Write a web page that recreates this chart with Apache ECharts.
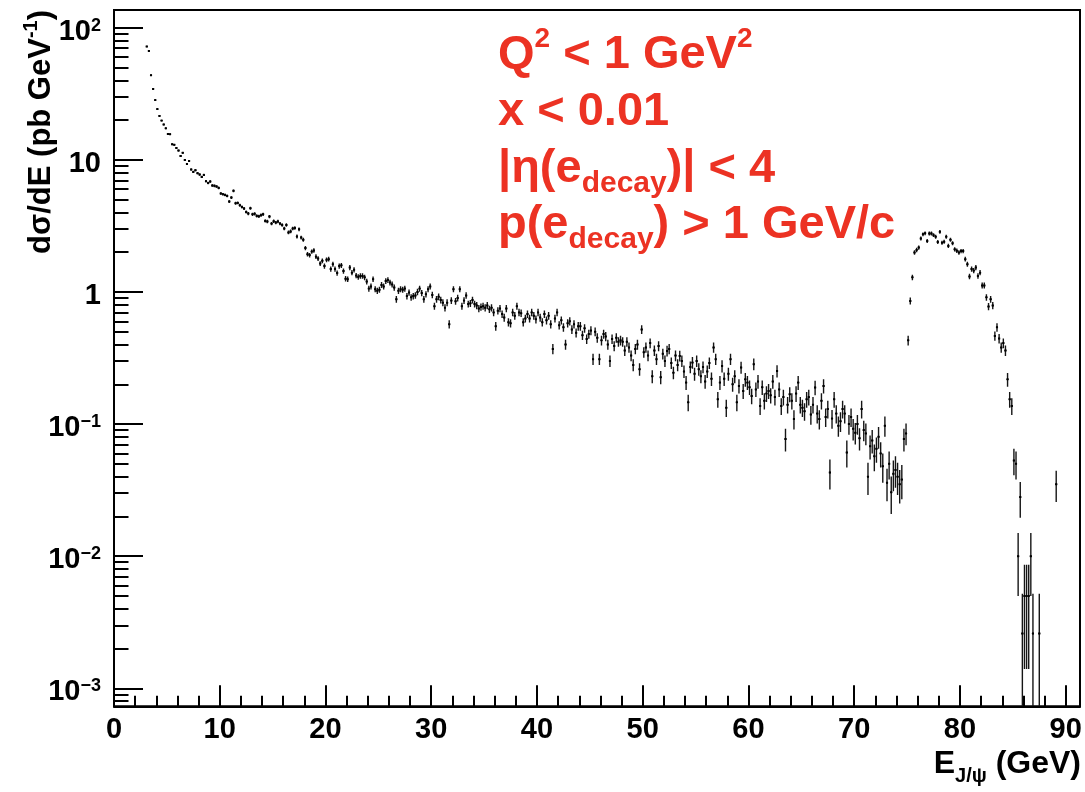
<!DOCTYPE html>
<html><head><meta charset="utf-8">
<script src="https://cdn.jsdelivr.net/npm/echarts@6/dist/echarts.min.js"></script>
<style>html,body{margin:0;padding:0;background:#fff}#c{width:1085px;height:792px}</style>
</head><body><div id="c"></div>
<script>
// ---------------- data ----------------
const binWidth = 0.2;           // GeV, histogram bin width
// bin contents (pb/GeV) and their errors, per range of E (bin centres start at `start`)
const seg1Start = 3.1;
const seg1 = [72.1,66.7,43.7,34.4,28.3,24.2,21.5,19.8,18.5,17.3,15.7,15.6,13.1,13.0,12.3,11.75,10.7,11.3,9.98,9.31,9.81,8.45,8.10,8.34,7.92,7.74,7.42,7.69,6.89,6.68,6.85,6.39,6.35,6.28,6.13,5.56,5.49,5.42,5.33,4.83,5.18,5.82,4.69,4.72,4.53];
const err1 = [0.47,0.45,0.36,0.32,0.29,0.27,0.25,0.24,0.24,0.23,0.22,0.22,0.20,0.20,0.19,0.19,0.18,0.18,0.17,0.17,0.17,0.16,0.16,0.16,0.15,0.15,0.15,0.15,0.14,0.14,0.14,0.14,0.14,0.14,0.14,0.13,0.13,0.13,0.13,0.12,0.12,0.13,0.12,0.12,0.12];
const seg2Start = 12.1;
const seg2 = [4.40,4.28,4.03,3.92,4.30,3.87,3.90,3.76,3.74,3.81,3.87,3.45,3.41,3.72,3.29,3.43,3.35,3.41,3.29,3.21,3.02,3.21,2.82,2.87,3.02,3.05,2.63,2.98,2.58,2.48,2.15,1.93,1.90,2.02,2.06,1.85,1.79,1.64,1.72,1.57];
const err2 = [0.115,0.113,0.11,0.108,0.114,0.108,0.108,0.106,0.106,0.107,0.108,0.102,0.101,0.106,0.099,0.101,0.1,0.101,0.099,0.098,0.095,0.098,0.092,0.093,0.095,0.096,0.089,0.095,0.088,0.086,0.08,0.076,0.075,0.078,0.079,0.075,0.073,0.07,0.072,0.069];
const seg3Start = 20.1;
const seg3 = [1.75,1.77,1.49,1.62,1.49,1.39,1.57,1.59,1.44,1.26,1.25,1.53,1.40,1.47,1.33,1.30,1.32,1.32,1.29,1.20,1.06,1.10,1.25,1.05,1.02,1.04,1.13,1.10,1.21,1.23,1.18,1.14,1.08,0.88,1.02,1.05,1.04,1.06,0.93,0.99,0.91,0.93,0.94,1.00,1.06,0.98,0.88,0.96,1.05,1.10];
const err3 = [0.072,0.073,0.067,0.07,0.067,0.065,0.069,0.069,0.066,0.061,0.061,0.068,0.065,0.066,0.063,0.062,0.063,0.063,0.062,0.06,0.056,0.057,0.061,0.056,0.055,0.056,0.058,0.057,0.06,0.061,0.059,0.058,0.057,0.051,0.055,0.056,0.056,0.056,0.053,0.054,0.052,0.053,0.053,0.055,0.056,0.054,0.051,0.054,0.056,0.057];
const seg4Start = 30.1;
const seg4 = [0.95,0.78,0.88,0.92,0.87,0.83,0.76,0.83,0.57,0.86,1.05,0.85,0.90,1.05,0.78,0.86,0.94,0.81,0.82,0.87,0.81,0.79,0.75,0.77,0.78,0.76,0.79,0.74,0.76,0.70,0.55,0.72,0.75,0.68,0.64,0.75,0.59,0.58,0.70,0.66,0.78,0.70,0.69,0.59,0.63,0.68,0.63,0.70,0.66,0.62];
const err4 = [0.053,0.048,0.051,0.053,0.051,0.05,0.048,0.05,0.041,0.051,0.056,0.05,0.052,0.056,0.048,0.051,0.053,0.049,0.05,0.051,0.049,0.049,0.047,0.048,0.048,0.048,0.049,0.047,0.048,0.046,0.041,0.046,0.047,0.045,0.044,0.047,0.042,0.042,0.046,0.044,0.048,0.046,0.045,0.042,0.043,0.045,0.043,0.046,0.044,0.043];
const seg5Start = 40.1;
const seg5 = [0.70,0.64,0.59,0.68,0.61,0.66,0.57,0.37,0.63,0.70,0.56,0.61,0.54,0.40,0.58,0.60,0.52,0.57,0.49,0.55,0.55,0.47,0.53,0.44,0.48,0.51,0.31,0.50,0.45,0.31,0.43,0.48,0.46,0.40,0.30,0.44,0.39,0.45,0.42,0.43,0.42,0.36,0.42,0.38,0.33,0.28,0.37,0.40,0.26,0.52];
const err5 = [0.046,0.044,0.042,0.045,0.043,0.044,0.041,0.033,0.043,0.046,0.041,0.043,0.04,0.035,0.042,0.042,0.04,0.041,0.038,0.041,0.041,0.038,0.04,0.036,0.038,0.039,0.03,0.039,0.037,0.03,0.036,0.038,0.037,0.035,0.03,0.036,0.034,0.037,0.035,0.036,0.035,0.033,0.035,0.034,0.031,0.029,0.033,0.035,0.028,0.039];
const seg6Start = 50.1;
const seg6 = [0.35,0.38,0.33,0.41,0.23,0.36,0.31,0.39,0.226,0.34,0.30,0.358,0.37,0.29,0.245,0.33,0.28,0.328,0.30,0.25,0.206,0.146,0.27,0.292,0.24,0.30,0.26,0.23,0.27,0.21,0.25,0.29,0.22,0.38,0.31,0.154,0.206,0.275,0.22,0.133,0.24,0.31,0.20,0.23,0.146,0.194,0.268,0.178,0.218,0.206];
const err6 = [0.032,0.034,0.031,0.035,0.026,0.033,0.03,0.034,0.026,0.032,0.03,0.033,0.033,0.029,0.027,0.031,0.029,0.031,0.03,0.027,0.025,0.021,0.028,0.03,0.027,0.03,0.028,0.026,0.028,0.025,0.027,0.029,0.026,0.034,0.03,0.021,0.025,0.029,0.026,0.02,0.027,0.03,0.024,0.026,0.021,0.024,0.028,0.023,0.026,0.025];
const seg7Start = 60.1;
const seg7 = [0.19,0.163,0.284,0.183,0.21,0.137,0.19,0.15,0.17,0.178,0.165,0.21,0.16,0.252,0.183,0.137,0.16,0.077,0.14,0.168,0.15,0.109,0.17,0.206,0.14,0.133,0.125,0.154,0.16,0.118,0.14,0.189,0.12,0.109,0.15,0.194,0.113,0.13,0.043,0.11,0.154,0.12,0.097,0.105,0.13,0.12,0.061,0.10,0.113,0.092,0.086,0.10,0.078,0.13,0.09,0.085,0.040,0.068,0.075,0.057,0.065,0.08,0.06,0.048,0.097,0.036,0.05,0.0305,0.042,0.045,0.040,0.035,0.038,0.077,0.085];
const err7 = [0.024,0.022,0.029,0.023,0.025,0.02,0.024,0.021,0.023,0.023,0.022,0.025,0.022,0.027,0.023,0.02,0.022,0.015,0.02,0.022,0.021,0.018,0.023,0.025,0.02,0.02,0.019,0.021,0.022,0.019,0.02,0.024,0.019,0.018,0.021,0.024,0.018,0.02,0.011,0.018,0.021,0.019,0.017,0.018,0.02,0.019,0.014,0.017,0.018,0.017,0.016,0.017,0.015,0.02,0.016,0.016,0.011,0.014,0.015,0.013,0.014,0.015,0.013,0.012,0.017,0.01,0.012,0.0096,0.011,0.012,0.011,0.01,0.011,0.015,0.016];
const seg8Start = 75.1;
const seg8 = [0.43,0.855,1.29,1.99,2.08,2.17,2.54,2.73,2.78,2.43,2.77,2.77,2.69,2.62,2.39,2.85,2.36,2.40,2.62,2.23,2.48,2.34,2.10,2.05,1.99,2.04,2.04,1.77,1.62,1.31,1.49,1.45,1.53,1.32,1.40,1.12,1.12,0.91,0.775,0.88,0.79,0.465,0.54,0.444,0.38,0.41,0.36,0.218,0.154,0.137,0.053];
const err8 = [0.036,0.051,0.062,0.077,0.079,0.081,0.087,0.09,0.091,0.085,0.091,0.091,0.09,0.089,0.085,0.092,0.084,0.085,0.089,0.082,0.086,0.084,0.079,0.078,0.077,0.078,0.078,0.073,0.07,0.063,0.067,0.066,0.068,0.063,0.065,0.058,0.058,0.052,0.048,0.051,0.049,0.037,0.04,0.036,0.034,0.035,0.033,0.026,0.021,0.02,0.012];
// sparse end-point tail: [E, value, error]
const tail = [[85.3,0.05,0.012],[85.5,0.010,0.005],[85.7,0.028,0.0085],[85.9,0.0026,0.0026],[86.1,0.005,0.0036],[86.3,0.005,0.0036],[86.5,0.005,0.0036],[86.7,0.010,0.005],[86.9,0.0026,0.0026],[87.5,0.0026,0.0026],[89.1,0.035,0.0093]];

// axes
const xMin = 0, xMax = 91.35;
const yMin = 7.31e-4, yMax = 136.1;
const xMajorTicks = [0,10,20,30,40,50,60,70,80,90];
const yMajorTicks = [1e-3,1e-2,1e-1,1,10,100];

// ---------------- build ----------------
const segments = [
  [seg1Start, seg1, err1],[seg2Start, seg2, err2],[seg3Start, seg3, err3],[seg4Start, seg4, err4],
  [seg5Start, seg5, err5],[seg6Start, seg6, err6],[seg7Start, seg7, err7],[seg8Start, seg8, err8]
];
const points = [];
segments.forEach(([s, vals, errs]) => vals.forEach((v, i) => points.push([+(s + i * binWidth).toFixed(2), v, errs[i]])));
tail.forEach(t => points.push(t));

const xMinorTicks = [];
for (let v = 2; v < xMax; v += 2) if (v % 10 !== 0) xMinorTicks.push(v);
const yMinorTicks = [];
for (let k = -4; k <= 2; k++) for (let m = 2; m <= 9; m++) { const v = m * Math.pow(10, k); if (v > yMin && v < yMax) yMinorTicks.push(+v.toPrecision(3)); }

const FONT = "'Liberation Sans', Arial, Helvetica, sans-serif";
const RED = '#ec3223';

const chart = echarts.init(document.getElementById('c'), null, {renderer: 'canvas'});

function yLabel(v) {
  const e = Math.round(Math.log10(v));
  if (e === 0) return '{b|1}';
  if (e === 1) return '{b|10}';
  return '{b|10}{s|' + (e < 0 ? '\u2212' + (-e) : e) + '}';
}

const axisCommon = {
  axisLine: {show: true, lineStyle: {color: '#000', width: 2}},
  splitLine: {show: false}
};

const redMain = {fontSize: 47, fontWeight: 'bold', fontFamily: FONT, fill: RED, lineHeight: 60};
const redSub = {fontSize: 30, fontWeight: 'bold', fontFamily: FONT, fill: RED, lineHeight: 32, verticalAlign: 'bottom'};
const redSup = {fontSize: 28, fontWeight: 'bold', fontFamily: FONT, fill: RED, lineHeight: 46, verticalAlign: 'top'};

const option = {
  animation: false,
  backgroundColor: '#fff',
  grid: {left: 114, right: 5, top: 10, bottom: 85.7, show: true, borderColor: '#000', borderWidth: 2, backgroundColor: 'transparent'},
  xAxis: [
    Object.assign({}, axisCommon, {
      type: 'value', min: xMin, max: xMax, position: 'bottom',
      axisTick: {show: true, inside: true, length: 21, lineStyle: {color: '#000', width: 2}, customValues: xMajorTicks},
      axisLabel: {show: true, customValues: xMajorTicks, margin: 9, fontSize: 29, lineHeight: 30, fontWeight: 'bold', fontFamily: FONT, color: '#000', formatter: v => String(v)}
    }),
    {
      type: 'value', min: xMin, max: xMax, position: 'bottom',
      axisLine: {show: false}, splitLine: {show: false}, axisLabel: {show: false},
      axisTick: {show: true, inside: true, length: 10.5, lineStyle: {color: '#000', width: 2}, customValues: xMinorTicks}
    }
  ],
  yAxis: [
    Object.assign({}, axisCommon, {
      type: 'log', logBase: 10, min: yMin, max: yMax, position: 'left',
      axisTick: {show: true, inside: true, length: 29, lineStyle: {color: '#000', width: 2}, customValues: yMajorTicks},
      axisLabel: {show: true, customValues: yMajorTicks, margin: 13, padding: [8, 0, 0, 0], formatter: yLabel,
        rich: {
          b: {fontSize: 29, fontWeight: 'bold', fontFamily: FONT, color: '#000', lineHeight: 30},
          s: {fontSize: 18, fontWeight: 'bold', fontFamily: FONT, color: '#000', lineHeight: 16, verticalAlign: 'top'}
        }}
    }),
    {
      type: 'log', logBase: 10, min: yMin, max: yMax, position: 'left',
      axisLine: {show: false}, splitLine: {show: false}, axisLabel: {show: false},
      axisTick: {show: true, inside: true, length: 14.5, lineStyle: {color: '#000', width: 2}, customValues: yMinorTicks}
    }
  ],
  series: [{
    type: 'custom',
    xAxisIndex: 0, yAxisIndex: 0,
    clip: true,
    encode: {x: 0, y: 1},
    data: points,
    renderItem: function (params, api) {
      const x = api.value(0), v = api.value(1), e = api.value(2);
      const c = api.coord([x, v]);
      const top = api.coord([x, v + e]);
      const bot = api.coord([x, Math.max(v - e, yMin)]);
      const l = api.coord([x - binWidth / 2, v]);
      const r = api.coord([x + binWidth / 2, v]);
      const st = {stroke: '#151515', lineWidth: 1.4};
      return {type: 'group', children: [
        {type: 'line', shape: {x1: c[0], y1: top[1], x2: c[0], y2: bot[1]}, style: st},
        {type: 'line', shape: {x1: l[0], y1: c[1], x2: r[0], y2: c[1]}, style: st},
        {type: 'rect', shape: {x: c[0] - 1, y: c[1] - 1, width: 2, height: 2}, style: {fill: '#000'}}
      ]};
    }
  }],
  graphic: [
    {type: 'text', x: 41, y: 10, rotation: Math.PI / 2, style: {
      text: '{m|d\u03c3/dE (pb GeV}{p|-1}{m|)}', align: 'right', verticalAlign: 'middle',
      rich: {
        m: {fontSize: 31, fontWeight: 'bold', fontFamily: FONT, fill: '#000', lineHeight: 40},
        p: {fontSize: 20, fontWeight: 'bold', fontFamily: FONT, fill: '#000', lineHeight: 24, verticalAlign: 'top'}
      }}},
    {type: 'text', x: 1081, y: 764, style: {
      text: '{m|E}{s|J/\u03c8}{m| (GeV)}', align: 'right', verticalAlign: 'middle',
      rich: {
        m: {fontSize: 32, fontWeight: 'bold', fontFamily: FONT, fill: '#000', lineHeight: 44},
        s: {fontSize: 20, fontWeight: 'bold', fontFamily: FONT, fill: '#000', lineHeight: 16, verticalAlign: 'bottom'}
      }}},
    {type: 'text', x: 498, y: 55, style: {
      text: '{m|Q}{p|2}{m| < 1 GeV}{p|2}', align: 'left', verticalAlign: 'middle',
      rich: {m: redMain, p: redSup}}},
    {type: 'text', x: 498, y: 112, style: {
      text: '{m|x < 0.01}', align: 'left', verticalAlign: 'middle',
      rich: {m: redMain}}},
    {type: 'text', x: 498, y: 169, style: {
      text: '{m||\u03b7(e}{b|decay}{m|)| < 4}', align: 'left', verticalAlign: 'middle',
      rich: {m: redMain, b: redSub}}},
    {type: 'text', x: 498, y: 225, style: {
      text: '{m|p(e}{b|decay}{m|) > 1 GeV/c}', align: 'left', verticalAlign: 'middle',
      rich: {m: redMain, b: redSub}}}
  ]
};
chart.setOption(option);
</script></body></html>
